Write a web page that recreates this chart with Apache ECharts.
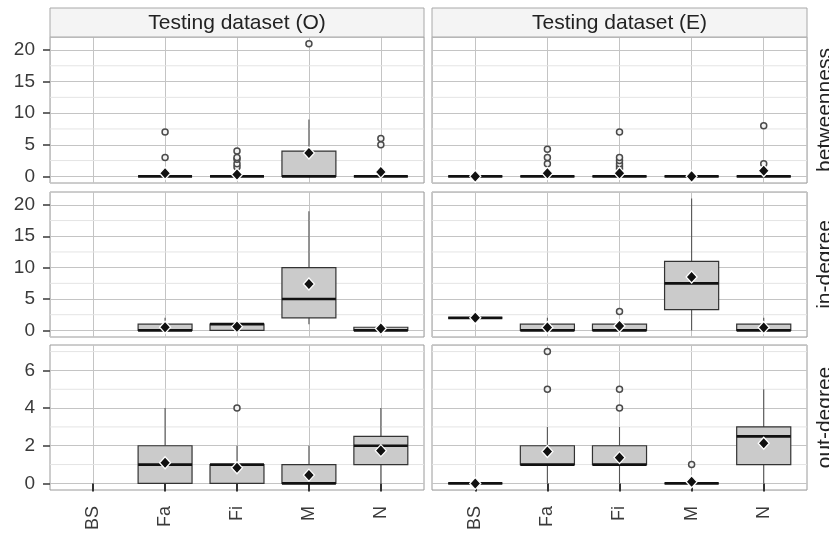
<!DOCTYPE html>
<html>
<head>
<meta charset="utf-8">
<script src="https://cdn.jsdelivr.net/npm/echarts@6/dist/echarts.min.js"></script>
<style>
html,body{margin:0;padding:0;background:#fff;}
#chart{width:829px;height:537px;}
</style>
</head>
<body>
<div id="chart"></div>
<script>
// ---------- data ----------
const categories = ['BS', 'Fa', 'Fi', 'M', 'N'];
const columns = ['Testing dataset (O)', 'Testing dataset (E)'];
const rows = ['betweenness', 'in-degree', 'out-degree'];

const yTicks = [[0, 5, 10, 15, 20], [0, 5, 10, 15, 20], [0, 2, 4, 6]];
const yMinorTicks = [[2.5, 7.5, 12.5, 17.5], [2.5, 7.5, 12.5, 17.5], [1, 3, 5, 7]];
const yLimits = [[-1.05, 22.05], [-1.05, 22.05], [-0.35, 7.35]];

// box stats: [low whisker, q1, median, q3, high whisker] per category (null = no data)
const betweennessO_box = [null, [0, 0, 0, 0, 0], [0, 0, 0, 0, 0], [0, 0, 0, 4, 9], [0, 0, 0, 0, 0]];
const betweennessO_mean = [null, 0.5, 0.3, 3.7, 0.7];
const betweennessO_out = [[], [3, 7], [1.5, 2, 2.7, 3, 4], [21], [5, 6]];

const betweennessE_box = [[0, 0, 0, 0, 0], [0, 0, 0, 0, 0], [0, 0, 0, 0, 0], [0, 0, 0, 0, 0], [0, 0, 0, 0, 0]];
const betweennessE_mean = [0, 0.5, 0.5, 0, 0.9];
const betweennessE_out = [[], [2, 3, 4.3], [1.2, 1.6, 2, 2.5, 3, 7], [], [2, 8]];

const indegreeO_box = [null, [0, 0, 0, 1, 2], [0, 0, 1, 1, 1], [1, 2, 5, 10, 19], [0, 0, 0, 0.5, 1]];
const indegreeO_mean = [null, 0.5, 0.6, 7.4, 0.3];
const indegreeO_out = [[], [], [], [], []];

const indegreeE_box = [[2, 2, 2, 2, 2], [0, 0, 0, 1, 2], [0, 0, 0, 1, 1], [0, 3.3, 7.5, 11, 21], [0, 0, 0, 1, 2]];
const indegreeE_mean = [2, 0.45, 0.7, 8.5, 0.45];
const indegreeE_out = [[], [], [3], [], []];

const outdegreeO_box = [null, [0, 0, 1, 2, 4], [0, 0, 1, 1, 2], [0, 0, 0, 1, 2], [0, 1, 2, 2.5, 4]];
const outdegreeO_mean = [null, 1.1, 0.83, 0.44, 1.74];
const outdegreeO_out = [[], [], [4], [], []];

const outdegreeE_box = [[0, 0, 0, 0, 0], [0, 1, 1, 2, 3], [0, 1, 1, 2, 3], [0, 0, 0, 0, 0], [0, 1, 2.5, 3, 5]];
const outdegreeE_mean = [0, 1.69, 1.37, 0.09, 2.13];
const outdegreeE_out = [[], [5, 7], [4, 5], [1], []];

const panelData = [
  [[betweennessO_box, betweennessO_mean, betweennessO_out], [betweennessE_box, betweennessE_mean, betweennessE_out]],
  [[indegreeO_box, indegreeO_mean, indegreeO_out], [indegreeE_box, indegreeE_mean, indegreeE_out]],
  [[outdegreeO_box, outdegreeO_mean, outdegreeO_out], [outdegreeE_box, outdegreeE_mean, outdegreeE_out]]
];

// ---------- layout ----------
const FONT = "'Liberation Sans', Arial, sans-serif";
const colLeft = [50, 432];
const colWidth = [374, 375];
const rowTop = [37, 192, 345];
const rowHeight = [146, 145, 145];

const grids = [], xAxes = [], yAxes = [], series = [], graphics = [];

function boxRender(params, api) {
  const x = api.value(0);
  const pLow = api.coord([x, api.value(1)]);
  const pQ1 = api.coord([x, api.value(2)]);
  const pMed = api.coord([x, api.value(3)]);
  const pQ3 = api.coord([x, api.value(4)]);
  const pHigh = api.coord([x, api.value(5)]);
  const hw = api.size([0.75, 0])[0] / 2;
  const cx = pMed[0];
  return {
    type: 'group',
    children: [
      { type: 'line', shape: { x1: cx, y1: pLow[1], x2: cx, y2: pQ1[1] }, style: { stroke: '#555', lineWidth: 1.1 } },
      { type: 'line', shape: { x1: cx, y1: pQ3[1], x2: cx, y2: pHigh[1] }, style: { stroke: '#555', lineWidth: 1.1 } },
      { type: 'rect', shape: { x: cx - hw, y: pQ3[1], width: hw * 2, height: Math.max(pQ1[1] - pQ3[1], 0) },
        style: { fill: '#cbcbcb', stroke: '#333', lineWidth: 1.2 } },
      { type: 'line', shape: { x1: cx - hw, y1: pMed[1], x2: cx + hw, y2: pMed[1] }, style: { stroke: '#111', lineWidth: 2.6 } }
    ]
  };
}

function minorRender(params, api) {
  const p = api.coord([3, api.value(1)]);
  const cs = params.coordSys;
  return { type: 'line', shape: { x1: cs.x, y1: p[1], x2: cs.x + cs.width, y2: p[1] },
    style: { stroke: '#e4e4e4', lineWidth: 1 } };
}

let idx = 0;
for (let r = 0; r < 3; r++) {
  for (let c = 0; c < 2; c++) {
    grids.push({ left: colLeft[c], top: rowTop[r], width: colWidth[c], height: rowHeight[r],
      show: true, backgroundColor: '#fff', borderColor: '#9a9a9a', borderWidth: 1 });
    const bottom = r === 2;
    xAxes.push({
      type: 'value', gridIndex: idx, min: 0.4, max: 5.6,
      axisLine: { show: false },
      axisTick: bottom ? { show: true, length: 8, customValues: [1, 2, 3, 4, 5], lineStyle: { color: '#333', width: 2 } } : { show: false },
      axisLabel: bottom ? { show: true, customValues: [1, 2, 3, 4, 5], rotate: 90, margin: 16,
        fontSize: 18, fontFamily: FONT, color: '#3a3a3a',
        formatter: v => categories[Math.round(v) - 1] || '' } : { show: false },
      splitLine: { show: true, lineStyle: { color: '#c4c4c4', width: 1 } }
    });
    yAxes.push({
      type: 'value', gridIndex: idx, min: yLimits[r][0], max: yLimits[r][1],
      axisLine: { show: false },
      axisTick: c === 0 ? { show: true, length: 7, customValues: yTicks[r], lineStyle: { color: '#444', width: 1.6 } } : { show: false },
      axisLabel: c === 0 ? { show: true, customValues: yTicks[r], margin: 15, fontSize: 19, fontFamily: FONT, color: '#3a3a3a' } : { show: false },
      splitLine: { show: true, lineStyle: { color: '#c4c4c4', width: 1 } }
    });

    const [box, mean, out] = panelData[r][c];
    series.push({
      type: 'custom', xAxisIndex: idx, yAxisIndex: idx, z: 1, silent: true,
      renderItem: minorRender, encode: { x: 0, y: 1 },
      data: yMinorTicks[r].map(v => [3, v])
    });
    const boxItems = [];
    box.forEach((b, i) => { if (b) boxItems.push([i + 1, b[0], b[1], b[2], b[3], b[4]]); });
    series.push({
      type: 'custom', xAxisIndex: idx, yAxisIndex: idx, z: 2, silent: true,
      renderItem: boxRender, encode: { x: 0, y: [1, 2, 3, 4, 5] },
      data: boxItems
    });
    const outItems = [];
    out.forEach((arr, i) => arr.forEach(v => outItems.push([i + 1, v])));
    series.push({
      type: 'scatter', xAxisIndex: idx, yAxisIndex: idx, z: 3, silent: true,
      symbol: 'circle', symbolSize: 6,
      itemStyle: { color: '#f2f2f2', borderColor: '#4a4a4a', borderWidth: 1.5, opacity: 1 },
      data: outItems
    });
    const meanItems = [];
    mean.forEach((m, i) => { if (m !== null) meanItems.push([i + 1, m]); });
    series.push({
      type: 'scatter', xAxisIndex: idx, yAxisIndex: idx, z: 4, silent: true,
      symbol: 'diamond', symbolSize: [11, 12],
      itemStyle: { color: '#111', borderColor: '#fff', borderWidth: 1.3, opacity: 1 },
      data: meanItems
    });
    idx++;
  }
}

// strips
columns.forEach((name, c) => {
  graphics.push({ type: 'rect', shape: { x: colLeft[c], y: 8, width: colWidth[c], height: 29 },
    style: { fill: '#f4f4f4', stroke: '#a8a8a8', lineWidth: 1 }, z: 10 });
  graphics.push({ type: 'text', x: colLeft[c] + colWidth[c] / 2, y: 23,
    style: { text: name, fontSize: 21, fontFamily: FONT, fill: '#222', textAlign: 'center', textVerticalAlign: 'middle' }, z: 11 });
});
rows.forEach((name, r) => {
  graphics.push({ type: 'text', x: 825, y: rowTop[r] + rowHeight[r] / 2, rotation: Math.PI / 2,
    style: { text: name, fontSize: 21, fontFamily: FONT, fill: '#222', textAlign: 'center', textVerticalAlign: 'middle' }, z: 11 });
});

const chart = echarts.init(document.getElementById('chart'), null, { renderer: 'canvas' });
chart.setOption({
  animation: false,
  backgroundColor: '#fff',
  grid: grids,
  xAxis: xAxes,
  yAxis: yAxes,
  series: series,
  graphic: graphics
});
</script>
</body>
</html>
